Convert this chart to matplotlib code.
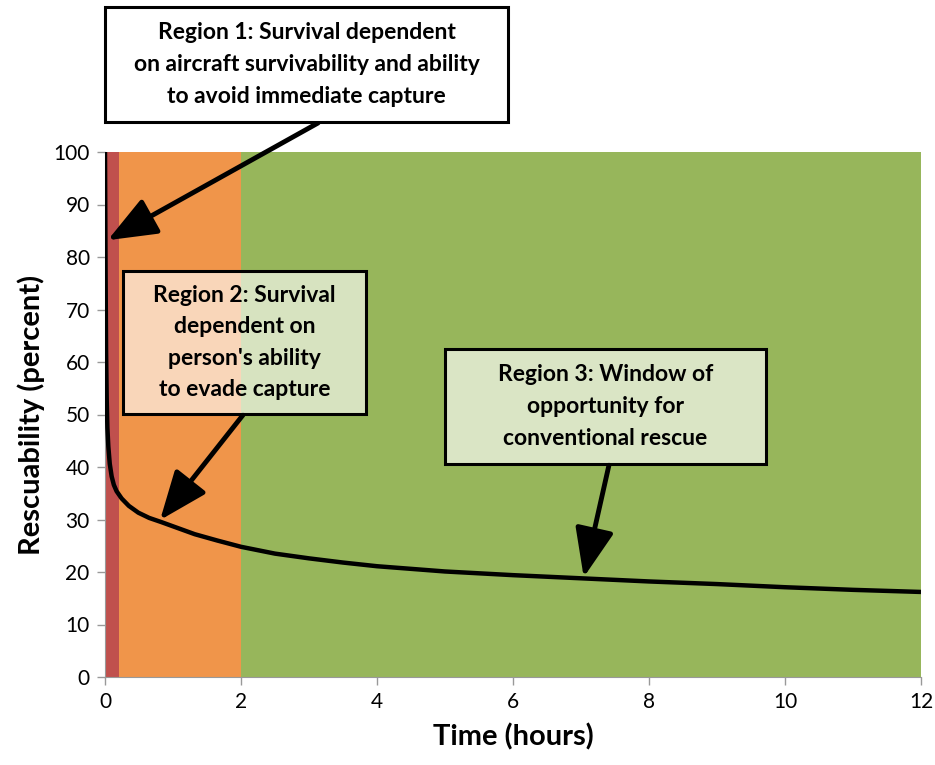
import matplotlib
matplotlib.use("Agg")
import matplotlib.pyplot as plt
from matplotlib.patches import Rectangle

plt.rcParams['font.family'] = ['Lato', 'DejaVu Sans']

# time (hours) and rescuability (percent)
time_h = [0.0, 0.008, 0.016, 0.025, 0.035, 0.049, 0.07, 0.098, 0.13, 0.17, 0.245,
          0.35, 0.49, 0.65, 0.83, 1.0, 1.32, 1.65, 2.0, 2.5, 3.0, 3.5, 4.0,
          5.0, 6.0, 7.0, 8.0, 9.0, 10.0, 11.0, 12.0]
rescue_pct = [100, 78, 62, 53, 47.5, 43.9, 40.6, 38.2, 36.6, 35.4, 34.0,
              32.6, 31.3, 30.3, 29.5, 28.7, 27.2, 26.0, 24.8, 23.5, 22.6, 21.8, 21.1,
              20.1, 19.4, 18.8, 18.2, 17.7, 17.1, 16.6, 16.2]

# region boundaries (hours) and colours
region_edges = [0.0, 0.2, 2.0, 12.0]
region_colors = ["#C0504D", "#F0954A", "#97B65B"]

W, H = 935, 765


def px(x, y):
    # pixel position on the picture -> figure fraction
    return (x / W, 1 - y / H)


fig = plt.figure(figsize=(W / 100, H / 100), dpi=100)
ax = fig.add_axes([105 / W, (H - 677) / H, (921 - 105) / W, (677 - 152) / H])

for i, c in enumerate(region_colors):
    ax.axvspan(region_edges[i], region_edges[i + 1], color=c, lw=0, zorder=1)

ax.plot(time_h, rescue_pct, color="black", lw=3.2, zorder=3,
        solid_capstyle="butt", solid_joinstyle="round")

ax.set_xlim(0, 12)
ax.set_ylim(0, 100)
ax.set_xticks(range(0, 13, 2))
ax.set_yticks(range(0, 101, 10))
ax.tick_params(axis="both", labelsize=15, color="#999999", length=6, width=1, pad=5)
for side in ["top", "right"]:
    ax.spines[side].set_visible(False)
for side in ["left", "bottom"]:
    ax.spines[side].set_color("#999999")

ax.set_xlabel("Time (hours)", fontsize=21, fontweight="bold", labelpad=8)
ax.set_ylabel("Rescuability (percent)", fontsize=21, fontweight="bold", labelpad=6)

# annotation boxes: (left, top, right, bottom) in pixels, fill, text
boxes = [
    ((105, 7, 508, 122), "white", 1.0,
     "Region 1: Survival dependent\non aircraft survivability and ability\nto avoid immediate capture"),
    ((123, 271, 366, 414), "white", 0.62,
     "Region 2: Survival\ndependent on\nperson's ability\nto evade capture"),
    ((445, 349, 766, 464), "white", 0.65,
     "Region 3: Window of\nopportunity for\nconventional rescue"),
]
for (l, t, r, b), fc, a, txt in boxes:
    x0, y0 = px(l, b)
    x1, y1 = px(r, t)
    fig.add_artist(Rectangle((x0, y0), x1 - x0, y1 - y0, transform=fig.transFigure,
                             facecolor=fc, alpha=a, edgecolor="none", zorder=4))
    fig.add_artist(Rectangle((x0, y0), x1 - x0, y1 - y0, transform=fig.transFigure,
                             facecolor="none", edgecolor="black", lw=2.2, zorder=5))
    fig.text((x0 + x1) / 2, (y0 + y1) / 2, txt, ha="center", va="center",
             fontsize=16.5, fontweight="bold", linespacing=1.62, zorder=6)

# arrows: tail in pixels, tip in data coordinates
arrows = [((318, 123), (0.04, 83.2)),
          ((243, 415), (0.81, 29.9)),
          ((609, 465), (7.04, 19.0))]
for (tx, ty), tip in arrows:
    ax.annotate("", xy=tip, xycoords="data", xytext=px(tx, ty),
                textcoords="figure fraction",
                arrowprops=dict(arrowstyle="-|>,head_length=1.5,head_width=0.6",
                                lw=3.5, color="black", mutation_scale=20,
                                shrinkA=0, shrinkB=0),
                zorder=7, annotation_clip=False)

fig.savefig("out.png", dpi=100)
